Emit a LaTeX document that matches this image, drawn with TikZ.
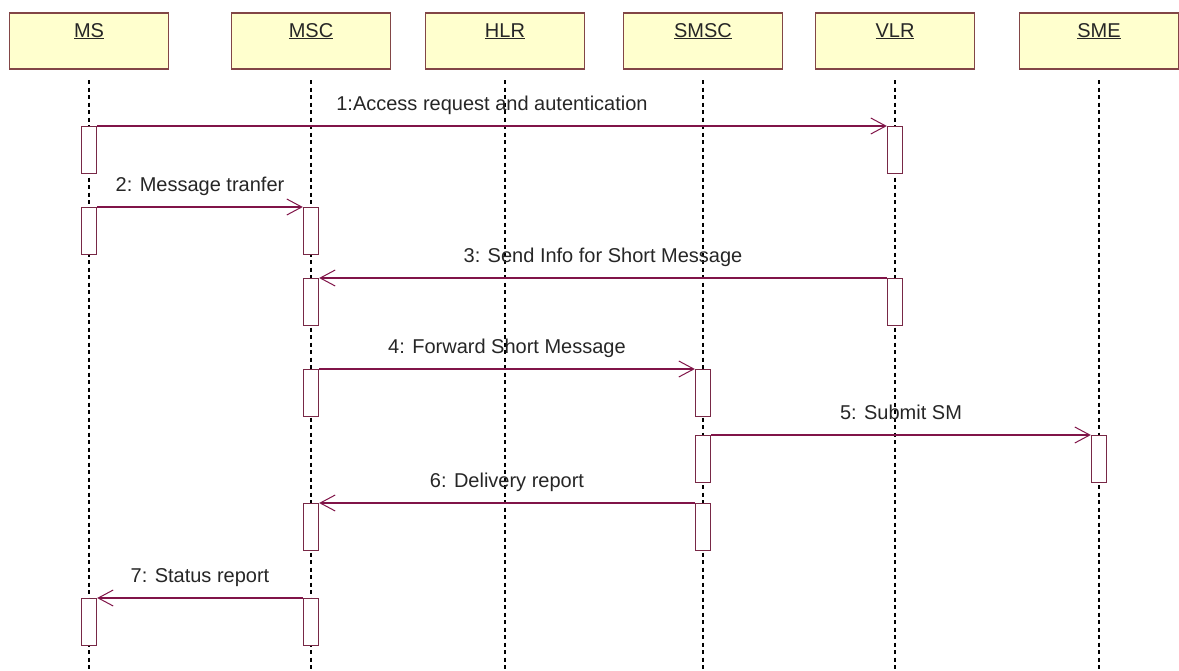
\documentclass[tikz,border=0pt]{standalone}
\usepackage{fontspec}
\setmainfont{Liberation Sans}
\usetikzlibrary{arrows.meta}

\definecolor{hdrfill}{RGB}{255,255,206}
\definecolor{hdrdraw}{RGB}{130,70,70}
\definecolor{msgcol}{RGB}{128,20,72}
\definecolor{actdraw}{RGB}{120,40,70}

\tikzset{
  headbox/.style={draw=hdrdraw, fill=hdrfill, line width=1.4pt,
    minimum width=159pt, minimum height=56pt, inner sep=0pt},
  headtext/.style={font=\fontsize{20pt}{22pt}\selectfont, text=black!85, inner sep=0pt},
  lifeline/.style={draw=black, line width=1.3pt, dash pattern=on 4pt off 3.5pt},
  actbox/.style={draw=actdraw, fill=white, line width=1.3pt,
    minimum width=15pt, minimum height=47pt, inner sep=0pt, anchor=north},
  msg/.style={draw=msgcol, line width=1.2pt,
    -{Straight Barb[length=15pt, width=16pt, line width=1pt]}},
  msgtext/.style={font=\fontsize{20pt}{22pt}\selectfont, text=black!85,
    inner sep=0pt, anchor=base, yshift=16pt}
}

\begin{document}
\begin{tikzpicture}[x=1pt, y=-1pt]
\useasboundingbox (0,0) rectangle (1179,670);

% participants
\foreach \n/\t/\x in {ms/MS/89, msc/MSC/311, hlr/HLR/505, smsc/SMSC/703, vlr/VLR/895, sme/SME/1099}{
  \node[headbox] (\n) at (\x,41) {};
  \node[headtext, anchor=base] (\n-name) at (\x,37) {\underline{\t}};
  \coordinate (\n-top) at (\x,80);
  \coordinate (\n-bot) at (\x,670);
  \draw[lifeline] (\n-top) -- (\n-bot);
}

% activation bars
\node[actbox] (m1s) at (89,126) {};
\node[actbox] (m1t) at (895,126) {};
\node[actbox] (m2s) at (89,207) {};
\node[actbox] (m2t) at (311,207) {};
\node[actbox] (m3s) at (895,278) {};
\node[actbox] (m3t) at (311,278) {};
\node[actbox] (m4s) at (311,369) {};
\node[actbox] (m4t) at (703,369) {};
\node[actbox] (m5s) at (703,435) {};
\node[actbox] (m5t) at (1099,435) {};
\node[actbox] (m6s) at (703,503) {};
\node[actbox] (m6t) at (311,503) {};
\node[actbox] (m7s) at (311,598) {};
\node[actbox] (m7t) at (89,598) {};

% messages
\draw[msg] (m1s.north east) -- node[msgtext] (l1) {1:Access request and autentication} (m1t.north west);
\draw[msg] (m2s.north east) -- node[msgtext] (l2) {2: Message tranfer} (m2t.north west);
\draw[msg] (m3s.north west) -- node[msgtext] (l3) {3: Send Info for Short Message} (m3t.north east);
\draw[msg] (m4s.north east) -- node[msgtext] (l4) {4: Forward Short Message} (m4t.north west);
\draw[msg] (m5s.north east) -- node[msgtext] (l5) {5: Submit SM} (m5t.north west);
\draw[msg] (m6s.north west) -- node[msgtext] (l6) {6: Delivery report} (m6t.north east);
\draw[msg] (m7s.north west) -- node[msgtext] (l7) {7: Status report} (m7t.north east);
\end{tikzpicture}
\end{document}
